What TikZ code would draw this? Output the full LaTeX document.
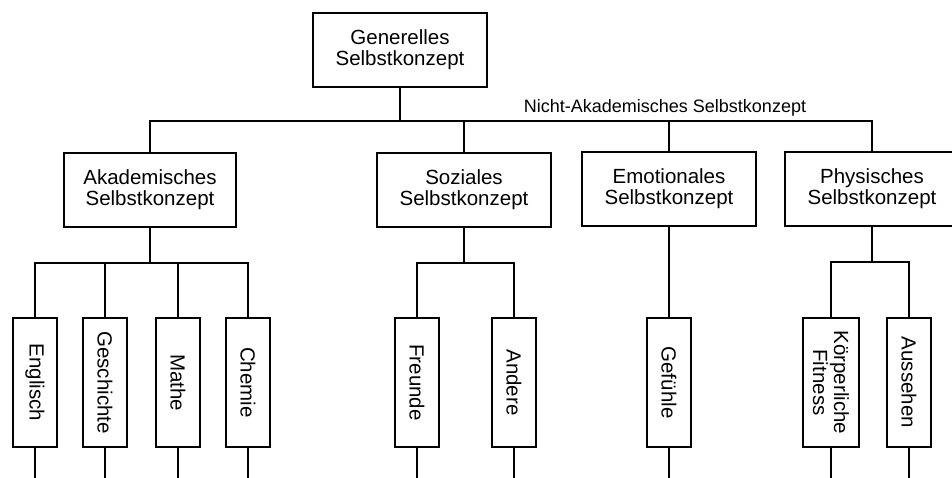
\documentclass[tikz,border=0pt]{standalone}
\usepackage{fontspec}
\setmainfont{Liberation Sans}

\begin{document}
\begin{tikzpicture}[x=1pt, y=-1pt, line width=1.6pt,
	headbox/.style={draw, align=center, minimum width=174pt, minimum height=74pt, inner sep=2pt, font=\fontsize{20.5}{21}\selectfont},
	leafbox/.style={draw, rotate=-90, align=center, minimum width=129pt, minimum height=44pt, inner sep=2pt, font=\fontsize{20.5}{21}\selectfont}]

\def\width{952}
\def\height{477}
\def\leafy{382.5}

\path [use as bounding box] (0,0) rectangle (\width,\height);

% TOP
\node [headbox] (gen) at (400,50) {Generelles\\Selbstkonzept};

% SECOND LEVEL
\node [headbox, minimum width=172pt] (akad) at (150,190) {Akademisches\\Selbstkonzept};
\node [headbox] (soz) at (464,190) {Soziales\\Selbstkonzept};
\node [headbox] (emo) at (669,189) {Emotionales\\Selbstkonzept};
\node [headbox] (phys) at (872,189) {Physisches\\Selbstkonzept};
\node [font=\fontsize{18}{20}\selectfont, anchor=base] (nakad) at (665,112) {Nicht-Akademisches Selbstkonzept};

% THIRD LEVEL
\node [leafbox] (engl) at (35,\leafy) {Englisch};
\node [leafbox] (gesch) at (105,\leafy) {Geschichte};
\node [leafbox] (mathe) at (178,\leafy) {Mathe};
\node [leafbox] (chem) at (248,\leafy) {Chemie};
\node [leafbox] (freu) at (417,\leafy) {Freunde};
\node [leafbox] (andr) at (514,\leafy) {Andere};
\node [leafbox] (gef) at (669,\leafy) {Gefühle};
\node [leafbox, minimum height=56pt] (fit) at (831,\leafy) {Körperliche\\Fitness};
\node [leafbox] (auss) at (909,\leafy) {Aussehen};

% LINES
\coordinate (top) at (400,121);
\draw (gen.south) -- (top);
\foreach \n in {akad,soz,emo,phys}
	\draw (top) -| (\n.north);
\foreach \p/\c in {akad/engl, akad/gesch, akad/mathe, akad/chem, soz/freu, soz/andr, emo/gef, phys/fit, phys/auss}
	\draw (\p.south) -- ++(0,35) -| (\c.west);
\foreach \c in {engl,gesch,mathe,chem,freu,andr,gef,fit,auss}
	\draw (\c.east) -- +(0,32);

\end{tikzpicture}
\end{document}
